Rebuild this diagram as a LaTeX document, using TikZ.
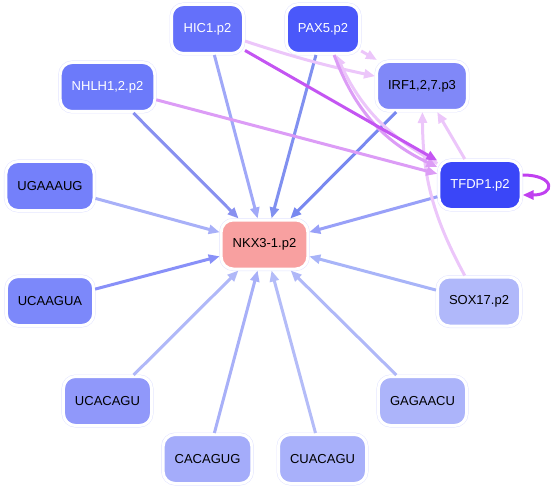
\documentclass[tikz,border=0pt]{standalone}
\usepackage{fontspec}
\setmainfont{Liberation Sans}
\usetikzlibrary{arrows.meta}
\definecolor{rim}{HTML}{E2E4FF}
\definecolor{cHic}{HTML}{6470FA}
\definecolor{cPax}{HTML}{4A58FA}
\definecolor{cIrf}{HTML}{8088F8}
\definecolor{cNhlh}{HTML}{6C7AFA}
\definecolor{cTfdp}{HTML}{3A46F8}
\definecolor{cUgaaaug}{HTML}{7480FA}
\definecolor{cNkx}{HTML}{F8A0A0}
\definecolor{cUcaagua}{HTML}{7C88FA}
\definecolor{cSox}{HTML}{B0B8FA}
\definecolor{cUcacagu}{HTML}{9098FA}
\definecolor{cGagaacu}{HTML}{ACB4FA}
\definecolor{cCacagug}{HTML}{A4ACFA}
\definecolor{cCuacagu}{HTML}{A8B0FA}
\definecolor{e1}{HTML}{A0A8F8}
\definecolor{e2}{HTML}{8090F0}
\definecolor{e3}{HTML}{8890F0}
\definecolor{e4}{HTML}{7888F0}
\definecolor{e5}{HTML}{98A0F8}
\definecolor{e6}{HTML}{A8B0F8}
\definecolor{e7}{HTML}{8890F8}
\definecolor{e8}{HTML}{A8B4F8}
\definecolor{e9}{HTML}{B0B8F8}
\definecolor{e10}{HTML}{B4BCF8}
\definecolor{lilac}{HTML}{ECC6FA}
\definecolor{orchid}{HTML}{DC9CF6}
\definecolor{violet}{HTML}{C455F2}
\definecolor{loopv}{HTML}{C040F0}
\begin{document}
\begin{tikzpicture}[x=1pt,y=-1pt,
  gene/.style={rounded corners=12pt, minimum height=49pt, minimum width=72pt, inner xsep=11.5pt,
    font=\fontsize{13}{15}\selectfont, draw=white, line width=3pt,
    preaction={draw=rim, line width=4pt}, fill=#1},
  tx/.style={line width=3pt, draw=#1, -{Triangle[length=11pt,width=9pt]}}]
\useasboundingbox (0,0) rectangle (551,489);
\node[gene=cHic, text=white] (hic) at (207.5,29) {HIC1.p2};
\node[gene=cPax, text=white] (pax) at (323,29) {PAX5.p2};
\node[gene=cIrf] (irf) at (422,86) {IRF1,2,7.p3};
\node[gene=cNhlh, text=white] (nhlh) at (107.5,87) {NHLH1,2.p2};
\node[gene=cTfdp, text=white] (tfdp) at (480,185) {TFDP1.p2};
\node[gene=cUgaaaug] (ugaaaug) at (50,186) {UGAAAUG};
\node[gene=cNkx] (nkx) at (264.5,244.5) {NKX3-1.p2};
\node[gene=cUcaagua] (ucaagua) at (50,301) {UCAAGUA};
\node[gene=cSox] (sox) at (479,301.5) {SOX17.p2};
\node[gene=cUcacagu] (ucacagu) at (107.5,401) {UCACAGU};
\node[gene=cGagaacu] (gagaacu) at (422.5,401) {GAGAACU};
\node[gene=cCacagug] (cacagug) at (207.5,459) {CACAGUG};
\node[gene=cCuacagu] (cuacagu) at (322.5,459) {CUACAGU};
\draw[tx=e1] (hic) -- (nkx);
\draw[tx=e2] (pax) -- (nkx);
\draw[tx=e3] (nhlh) -- (nkx);
\draw[tx=e4] (irf) -- (nkx);
\draw[tx=e5] (tfdp) -- (nkx);
\draw[tx=e6] (ugaaaug) -- (nkx);
\draw[tx=e7] (ucaagua) -- (nkx);
\draw[tx=e8] (sox) -- (nkx);
\draw[tx=e9] (ucacagu) -- (nkx);
\draw[tx=e6] (cacagug) -- (nkx);
\draw[tx=e10] (cuacagu) -- (nkx);
\draw[tx=e9] (gagaacu) -- (nkx);
\draw[tx=lilac] (hic) to[bend right=3] (irf);
\draw[tx=lilac] (pax) -- (irf);
\draw[tx=lilac] (tfdp) -- (irf);
\draw[tx=lilac] (sox) to[bend left=14] (irf);
\draw[tx=lilac] (tfdp) to[bend left=18] (pax);
\draw[tx=orchid] (pax) to[bend right=22] (tfdp);
\draw[tx=orchid] (nhlh) -- (tfdp);
\draw[tx=violet] (hic) -- (tfdp);
\draw[tx=loopv] ([yshift=10pt]tfdp.east) .. controls +(33,0) and +(33,0) .. ([yshift=-10pt]tfdp.east);
\end{tikzpicture}
\end{document}
